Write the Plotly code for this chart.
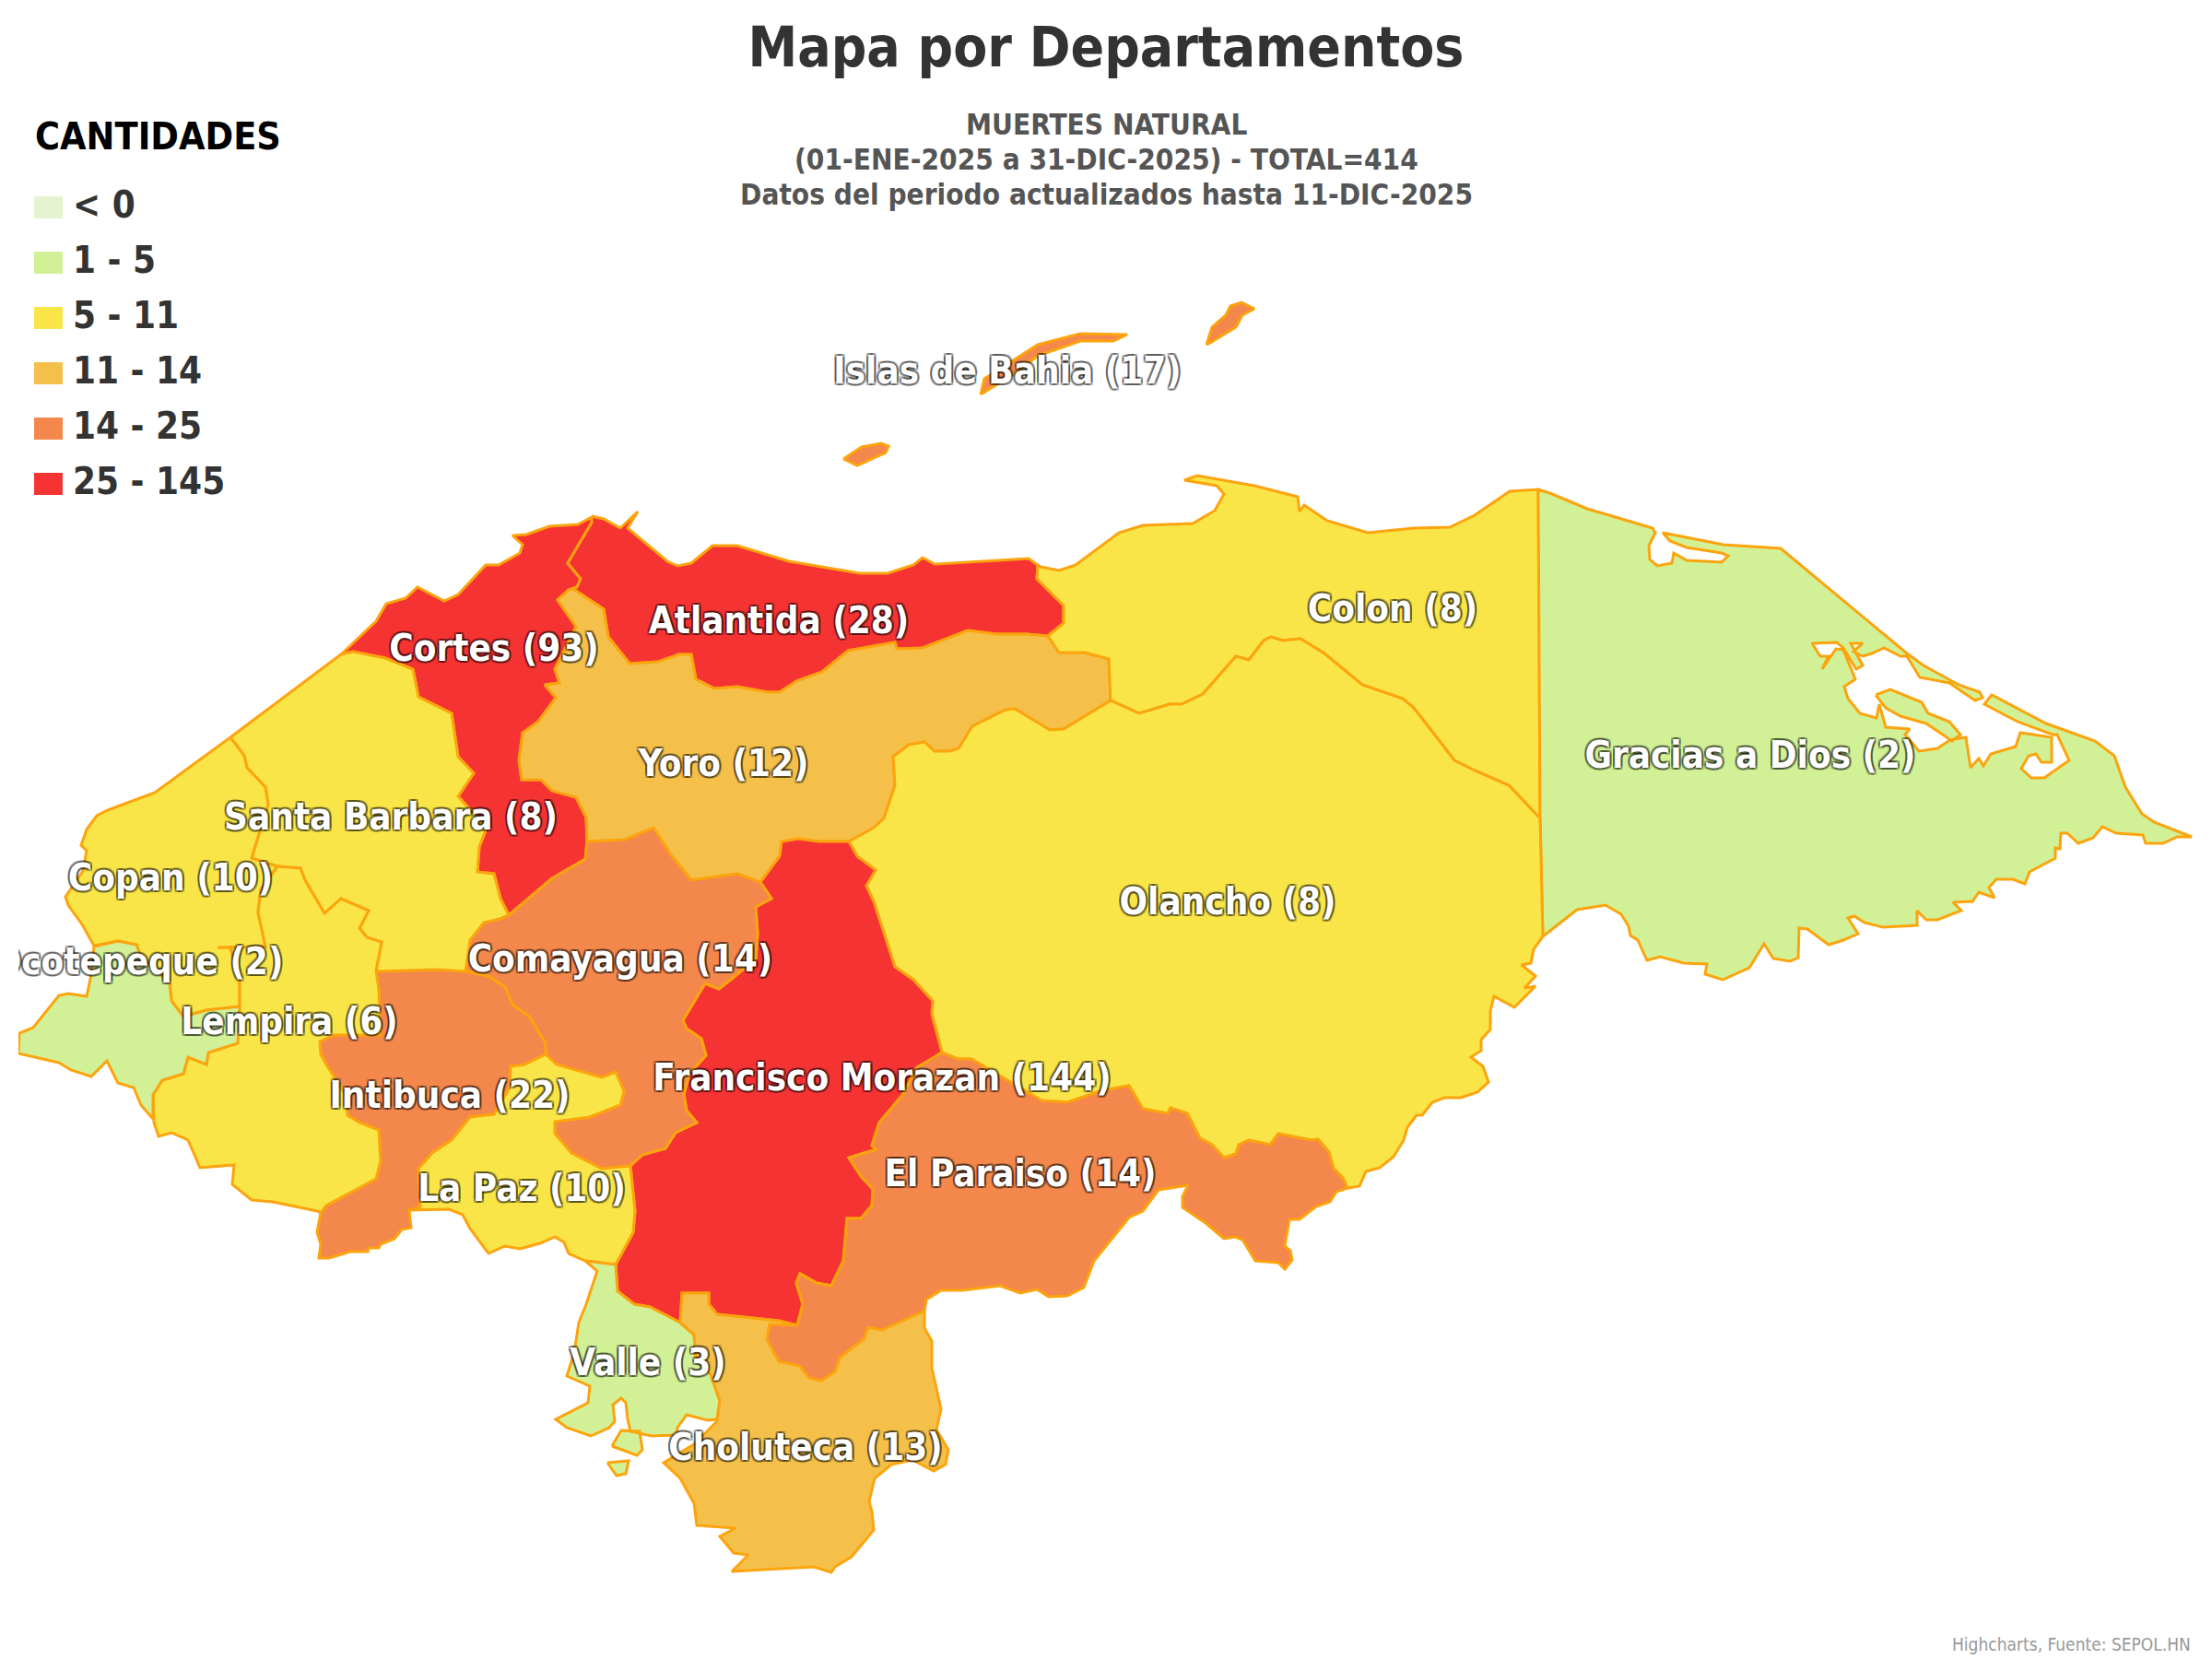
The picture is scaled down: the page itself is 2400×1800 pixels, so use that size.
import plotly.graph_objects as go

# ---------- data ----------
DEPARTMENTS = ["Cortes", "Atlantida", "Yoro", "Colon", "Gracias a Dios", "Olancho", "Francisco Morazan",
               "Comayagua", "Intibuca", "La Paz", "Valle", "Choluteca", "El Paraiso", "Santa Barbara",
               "Copan", "Lempira", "Ocotepeque", "Islas de Bahia"]
VALUES = [93, 28, 12, 8, 2, 8, 144, 14, 22, 10, 3, 13, 14, 8, 10, 6, 2, 17]
LABEL_X = [536, 845, 785, 1511, 1899, 1332, 957, 673, 488, 566, 703, 874, 1107, 424, 185, 314, 150, 1093]
LABEL_Y = [707, 677, 832, 664, 823, 982, 1173, 1044, 1192, 1293, 1482, 1574, 1277, 890, 956, 1112, 1047, 406]

CLASS_LABELS = ["< 0", "1 - 5", "5 - 11", "11 - 14", "14 - 25", "25 - 145"]
CLASS_COLORS = ["#e6f3d0", "#d2f196", "#f9e547", "#f5c04a", "#f4874b", "#f53333"]
CLASS_UPPER = [0.5, 5, 11, 13.5, 25, 145]

# shared boundaries (map units)
CORTES_COAST = [(370,710),(408,674),(419,655),(440,649),(453,637),(482,652),(497,645),(527,613),(541,613),(564,600),(567,591),(556,581),(571,580),(596,571),(627,569),(642,561)]
CORTES_ATL = [(642,561),(642,567),(616,611),(630,628),(626,637),(617,640)]
CORTES_YORO = [(617,640),(605,651),(625,680),(602,726),(607,741),(591,743),(603,757),(584,783),(567,795),(563,825),(566,846),(587,846),(599,858),(625,865),(636,887),(637,913)]
CORTES_COMA = [(637,913),(635,932),(599,953),(552,993)]
CORTES_SB = [(552,993),(543,975),(536,948),(518,946),(520,919),(528,898),(497,864),(514,839),(497,821),(490,774),(454,756),(448,726),(418,714),(383,707),(370,710)]
ATL_COAST = [(642,560),(655,563),(673,573),(692,555),(681,573),(724,609),(735,614),(750,611),(773,592),(800,592),(856,609),(933,622),(963,622),(991,613),(1001,605),(1014,612),(1116,606),(1126,613)]
ATL_COLON = [(1126,613),(1125,628),(1139,642),(1154,657),(1154,676),(1137,690)]
ATL_YORO = [(1137,690),(1114,688),(1081,688),(1050,684),(1001,703),(973,704),(971,697),(920,706),(892,729),(864,739),(846,751),(833,751),(800,745),(775,747),(755,737),(750,710),(737,710),(714,718),(683,720),(660,691),(655,661),(622,639),(617,640)]
YORO_COLON = [(1137,690),(1149,708),(1177,708),(1203,715),(1205,760)]
YORO_OLANCHO = [(1205,760),(1154,791),(1139,792),(1101,769),(1091,770),(1055,788),(1040,812),(1030,815),(1014,815),(1003,805),(986,808),(969,821),(971,852),(959,888),(948,898),(921,913)]
YORO_FM = [(921,913),(889,913),(866,910),(848,913),(846,929),(825,957)]
YORO_COMA = [(825,957),(800,948),(750,955),(729,929),(709,898),(678,911),(637,913)]
COLON_COAST = [(1126,613),(1129,615),(1149,619),(1167,613),(1214,578),(1240,570),(1294,568),(1318,554),(1328,536),(1320,527),(1285,521),(1299,516),(1361,527),(1408,539),(1410,555),(1415,548),(1440,565),(1484,578),(1534,573),(1573,572),(1600,559),(1638,533),(1669,531)]
COLON_GD = [(1669,531),(1671,888)]
COLON_OLANCHO = [(1671,888),(1637,852),(1600,836),(1578,825),(1534,768),(1522,758),(1478,743),(1437,709),(1411,693),(1392,695),(1379,691),(1371,695),(1355,716),(1341,712),(1305,753),(1282,764),(1269,764),(1236,774),(1205,760)]
OLANCHO_GD = [(1671,888),(1674,1016)]
OLANCHO_COAST = [(1674,1016),(1664,1030),(1661,1045),(1651,1047),(1666,1059),(1654,1072),(1666,1070),(1643,1093),(1621,1081),(1617,1097),(1617,1117),(1607,1128),(1607,1140),(1596,1147),(1609,1157),(1615,1174),(1603,1185),(1585,1191),(1567,1191),(1554,1196),(1543,1210),(1537,1210),(1527,1223),(1523,1237),(1512,1255),(1497,1267),(1482,1271),(1475,1287),(1462,1289)]
OLANCHO_PARAISO = [(1462,1289),(1457,1278),(1447,1268),(1442,1250),(1430,1236),(1422,1237),(1387,1230),(1378,1242),(1355,1237),(1344,1242),(1341,1252),(1328,1256),(1315,1242),(1302,1235),(1288,1208),(1270,1202),(1267,1208),(1250,1205),(1240,1203),(1225,1178),(1197,1183),(1158,1196),(1130,1194),(1115,1185),(1084,1167),(1054,1149),(1039,1149),(1022,1142)]
OLANCHO_FM = [(1022,1142),(1011,1100),(1012,1086),(991,1063),(971,1049),(948,978),(940,961),(950,944),(930,929),(921,913)]
FM_PARAISO = [(1022,1142),(995,1158),(980,1187),(954,1218),(946,1243),(951,1247),(921,1256),(934,1276),(947,1290),(946,1308),(934,1322),(919,1322),(915,1368),(902,1395),(886,1392),(868,1382),(864,1392),(871,1415),(865,1438)]
FM_CHOL = [(865,1438),(845,1433),(814,1430),(778,1426),(769,1415),(769,1403),(740,1403),(738,1435)]
FM_VALLE = [(738,1435),(705,1418),(688,1415),(670,1401),(668,1372)]
FM_LAPAZ = [(668,1372),(687,1337),(689,1314),(684,1265)]
FM_COMA = [(684,1265),(697,1253),(722,1246),(733,1229),(756,1218),(745,1205),(742,1187),(748,1165),(766,1145),(761,1127),(745,1116),(741,1107),(765,1067),(780,1073),(800,1057),(820,1040),(822,1013),(820,984),(837,975),(825,957)]
COMA_LAPAZ = [(684,1265),(653,1268),(620,1251),(602,1230),(602,1217),(640,1212),(673,1199),(677,1184),(668,1163),(653,1169),(604,1155),(592,1144)]
COMA_INTI = [(592,1144),(592,1132),(574,1103),(556,1090),(548,1071),(530,1059),(505,1054)]
COMA_SB = [(505,1054),(510,1020),(525,1001),(542,997),(552,993)]
INTI_LAPAZ = [(592,1144),(569,1155),(554,1157),(553,1180),(536,1209),(510,1212),(490,1237),(469,1251),(454,1268),(456,1310),(444,1313)]
INTI_COAST = [(444,1313),(446,1332),(436,1334),(428,1344),(413,1350),(411,1354),(400,1354),(399,1358),(380,1358),(357,1365),(346,1365),(348,1350),(344,1337),(348,1316)]
INTI_LEMPIRA = [(348,1316),(354,1308),(408,1279),(413,1260),(411,1226),(390,1218),(377,1210),(375,1188),(354,1155),(348,1144),(347,1130),(362,1123),(413,1123),(411,1073),(408,1053)]
INTI_SB = [(408,1053),(411,1054),(472,1052),(505,1054)]
LAPAZ_COAST = [(444,1313),(487,1312),(502,1318),(510,1333),(530,1360),(548,1352),(564,1355),(586,1349),(602,1342),(612,1348),(617,1360),(635,1368)]
LAPAZ_VALLE = [(635,1368),(668,1372)]
VALLE_CHOL = [(738,1435),(753,1448),(755,1475),(771,1491),(781,1520),(778,1540)]
VALLE_COAST = [(778,1540),(768,1541),(745,1535),(735,1549),(734,1557),(707,1558),(684,1553),(681,1540),(679,1522),(674,1517),(665,1524),(667,1542),(661,1549),(641,1558),(615,1549),(603,1540),(638,1522),(640,1504),(615,1493),(623,1468),(628,1435),(636,1415),(648,1379),(635,1368)]
VALLE_ISLAND_A = [(664,1569),(674,1552),(694,1553),(697,1573),(691,1579),(664,1569)]
VALLE_ISLAND_B = [(659,1587),(682,1585),(679,1599),(669,1601),(659,1587)]
PARAISO_CHOL = [(865,1438),(835,1437),(832,1453),(845,1477),(868,1482),(878,1495),(891,1498),(906,1488),(911,1473),(937,1453),(942,1440),(957,1443),(1003,1422)]
CHOL_COAST = [(1003,1422),(1003,1441),(1011,1455),(1011,1484),(1021,1529),(1016,1551),(1029,1573),(1026,1589),(1013,1596),(990,1584),(967,1589),(949,1604),(943,1629),(946,1640),(948,1660),(924,1689),(906,1700),(902,1706),(883,1700),(794,1705),(812,1687),(796,1685),(781,1667),(798,1658),(756,1655),(753,1631),(738,1604),(720,1587),(753,1567),(778,1542),(778,1540)]
PARAISO_COAST = [(1462,1289),(1450,1293),(1443,1304),(1428,1309),(1410,1323),(1399,1323),(1394,1352),(1400,1357),(1402,1367),(1394,1377),(1387,1370),(1362,1368),(1348,1345),(1340,1342),(1328,1344),(1308,1327),(1283,1310),(1283,1298),(1289,1286),(1257,1291),(1240,1314),(1225,1321),(1187,1368),(1176,1397),(1158,1406),(1138,1407),(1125,1399),(1107,1403),(1085,1395),(1044,1400),(1021,1400),(1005,1410),(1003,1422)]
SB_COAST = [(250,800),(370,710)]
SB_WEST = [(408,1053),(414,1022),(398,1017),(390,1007),(400,988),(370,975),(352,991),(331,955),(326,942),(301,940),(273,931),(283,898),(291,873),(288,854),(268,833),(265,820),(250,800)]
COPAN_RING = [(250,800),(168,860),(117,879),(105,885),(94,900),(88,917),(94,923),(90,945),(71,973),(74,982),(89,1003),(102,1026),(128,1021),(148,1025),(153,1038),(184,1067),(186,1086),(199,1103),(224,1096),(260,1092),(260,1065),(250,1028),(236,1028),(288,1027),(280,990),(283,965),(301,940),(273,931),(283,898),(291,873),(288,854),(268,833),(265,820),(250,800)]
LEMPIRA_NORTH = [(260,1092),(260,1065),(250,1028),(288,1027),(280,990),(283,965),(301,940),(326,942),(331,955),(352,991),(370,975),(400,988),(390,1007),(398,1017),(414,1022),(408,1053)]
LEMPIRA_COAST = [(348,1316),(344,1314),(296,1304),(273,1302),(252,1285),(254,1264),(217,1267),(204,1237),(186,1229),(172,1233),(167,1218),(166,1188),(176,1172),(199,1165),(204,1147),(224,1155),(226,1142),(255,1132),(260,1092)]
OCOTEPEQUE_RING = [(102,1027),(128,1021),(148,1025),(153,1038),(184,1067),(186,1086),(199,1103),(224,1096),(260,1092),(258,1132),(226,1142),(224,1155),(204,1147),(199,1165),(176,1172),(166,1188),(166,1214),(153,1199),(145,1180),(128,1175),(116,1151),(99,1168),(77,1161),(64,1153),(20,1143),(21,1121),(36,1115),(64,1080),(74,1078),(94,1081),(99,1057),(102,1027)]
GD_RING = [(1669,531),(1684,536),(1722,552),(1793,573),(1796,578),(1789,592),(1790,607),(1798,614),(1814,611),(1816,600),(1830,608),(1868,610),(1875,603),(1868,600),(1830,594),(1812,587),(1804,578),(1870,591),(1932,595),
           (2069,709),(2087,722),(2125,743),(2148,751),(2151,757),(2143,760),(2115,741),(2083,735),(2069,712),(2062,712),(2044,703),(2031,709),(2021,712),(2011,707),(2021,698),(2008,698),(2021,722),(2014,726),(2000,703),(1993,697),(1966,698),(1975,712),(1984,712),(1977,726),(1992,704),(2000,705),(2013,737),(2001,745),(2005,758),(2018,774),(2036,779),(2039,764),
           (2046,789),(2072,791),(2067,797),(2082,815),(2102,812),(2114,804),(2120,802),(2133,800),(2138,833),(2147,823),(2152,831),(2160,818),(2187,810),(2192,795),(2226,800),(2226,827),(2215,827),(2209,818),(2201,820),(2193,834),(2204,844),(2218,844),(2245,825),(2232,797),(2227,797),(2189,783),(2153,764),(2161,754),(2220,785),(2273,804),(2294,820),(2306,854),(2324,883),(2337,892),(2378,908),(2362,908),(2347,915),(2328,915),(2325,906),(2296,904),(2281,897),(2271,909),(2255,915),(2243,904),(2236,904),(2235,921),(2230,920),(2230,931),(2202,946),(2197,959),(2184,954),(2166,954),(2158,963),(2164,974),(2147,968),(2140,978),(2119,979),(2128,988),(2102,998),(2090,998),(2080,988),(2080,1004),(2043,1006),(2023,1001),(2012,994),(2005,996),(2016,1013),(2000,1020),(1984,1025),(1961,1008),(1952,1007),(1951,1039),(1942,1043),(1924,1040),(1914,1024),(1898,1050),(1869,1063),(1850,1057),(1852,1046),(1827,1045),(1801,1038),(1787,1042),(1777,1020),(1769,1015),(1767,1005),(1759,992),(1742,982),(1711,987),(1674,1016),(1671,888),(1669,531)]
GD_ISLAND = [(2035,754),(2051,748),(2085,762),(2092,774),(2115,783),(2127,797),(2118,804),(2090,785),(2062,777),(2046,768),(2035,754)]
ROATAN = [(1064,428),(1068,411),(1126,374),(1172,362),(1223,363),(1208,370),(1172,370),(1126,386),(1098,407),(1064,428)]
GUANAJA = [(1309,374),(1315,355),(1330,342),(1335,332),(1347,328),(1361,335),(1348,342),(1341,355),(1313,372),(1309,374)]
UTILA = [(915,498),(935,485),(956,481),(964,484),(961,491),(930,505),(915,498)]

TITLE = "Mapa por Departamentos"
SUBTITLE = ["MUERTES NATURAL", "(01-ENE-2025 a 31-DIC-2025) - TOTAL=414", "Datos del periodo actualizados hasta 11-DIC-2025"]
SUBTITLE_Y = [135, 173, 211]
LEGEND_TITLE = "CANTIDADES"
CREDITS = "Highcharts, Fuente: SEPOL.HN"

# ---------- geometry ----------
rev = lambda s: s[::-1]
SHAPES = {
    "Cortes": [CORTES_COAST + CORTES_ATL + CORTES_YORO + CORTES_COMA + CORTES_SB],
    "Atlantida": [ATL_COAST + ATL_COLON + ATL_YORO + rev(CORTES_ATL)],
    "Yoro": [YORO_COLON + YORO_OLANCHO + YORO_FM + YORO_COMA + rev(CORTES_YORO) + rev(ATL_YORO)],
    "Colon": [COLON_COAST + COLON_GD + COLON_OLANCHO + rev(YORO_COLON) + rev(ATL_COLON)],
    "Gracias a Dios": [GD_RING, GD_ISLAND],
    "Olancho": [rev(COLON_OLANCHO) + OLANCHO_GD + OLANCHO_COAST + OLANCHO_PARAISO + OLANCHO_FM + rev(YORO_OLANCHO)],
    "Francisco Morazan": [rev(OLANCHO_FM) + FM_PARAISO + FM_CHOL + FM_VALLE + FM_LAPAZ + FM_COMA + rev(YORO_FM)],
    "Comayagua": [rev(YORO_COMA) + rev(FM_COMA) + COMA_LAPAZ + COMA_INTI + COMA_SB + rev(CORTES_COMA)],
    "Intibuca": [rev(COMA_INTI) + INTI_LAPAZ + INTI_COAST + INTI_LEMPIRA + INTI_SB],
    "La Paz": [rev(INTI_LAPAZ) + rev(COMA_LAPAZ) + rev(FM_LAPAZ) + rev(LAPAZ_VALLE) + rev(LAPAZ_COAST)],
    "Valle": [LAPAZ_VALLE + rev(FM_VALLE) + VALLE_CHOL + VALLE_COAST, VALLE_ISLAND_A, VALLE_ISLAND_B],
    "Choluteca": [rev(FM_CHOL) + PARAISO_CHOL + CHOL_COAST + rev(VALLE_CHOL)],
    "El Paraiso": [rev(OLANCHO_PARAISO) + PARAISO_COAST + rev(PARAISO_CHOL) + rev(FM_PARAISO)],
    "Santa Barbara": [SB_COAST + rev(CORTES_SB) + rev(COMA_SB) + rev(INTI_SB) + SB_WEST],
    "Copan": [COPAN_RING],
    "Lempira": [LEMPIRA_NORTH + rev(INTI_LEMPIRA) + LEMPIRA_COAST],
    "Ocotepeque": [OCOTEPEQUE_RING],
    "Islas de Bahia": [ROATAN, GUANAJA, UTILA],
}

FONT = "DejaVu Sans Condensed, DejaVu Sans, sans-serif"
BORDER = "#fca40e"
OUTLINE = ", ".join(f"{dx}px {dy}px 0 rgba(0,0,0,0.3)" for dx, dy in
                    [(-2, 0), (2, 0), (0, -2), (0, 2), (-2, -2), (2, -2), (-2, 2), (2, 2)])


def class_color(v):
    for up, col in zip(CLASS_UPPER, CLASS_COLORS):
        if v <= up:
            return col
    return CLASS_COLORS[-1]


fig = go.Figure()
for name, value in zip(DEPARTMENTS, VALUES):
    xs, ys = [], []
    for ring in SHAPES[name]:
        xs += [p[0] for p in ring] + [None]
        ys += [p[1] for p in ring] + [None]
    fig.add_trace(go.Scatter(x=xs, y=ys, mode="lines", fill="toself", fillcolor=class_color(value),
                             line=dict(color=BORDER, width=3), name=name, hoverinfo="name", showlegend=False))

fig.add_trace(go.Scatter(
    x=LABEL_X, y=LABEL_Y, mode="text", cliponaxis=True, showlegend=False, hoverinfo="skip",
    text=[f"{n} ({v})" for n, v in zip(DEPARTMENTS, VALUES)], textposition="middle center",
    textfont=dict(family=FONT, size=40, color="white", weight="bold", shadow=OUTLINE)))

# legend
LEG_X0, LEG_X1, LEG_TOP, LEG_H, LEG_STEP = 37, 68, 213, 24, 60
shapes = []
annots = []
for i, (lab, col) in enumerate(zip(CLASS_LABELS, CLASS_COLORS)):
    y0 = LEG_TOP + i * LEG_STEP
    shapes.append(dict(type="rect", xref="x", yref="y", x0=LEG_X0, x1=LEG_X1, y0=y0, y1=y0 + LEG_H,
                       fillcolor=col, line=dict(width=0), layer="above"))
    annots.append(dict(x=77, y=y0 + LEG_H / 2 - 3, xref="x", yref="y", text=f"<b>{lab}</b>", showarrow=False,
                       xanchor="left", yanchor="middle", font=dict(family=FONT, size=40, color="#333333")))
annots.append(dict(x=36, y=148, xref="x", yref="y", text=f"<b>{LEGEND_TITLE}</b>", showarrow=False,
                   xanchor="left", yanchor="middle", font=dict(family=FONT, size=41, color="#000000")))
for line, yy in zip(SUBTITLE, SUBTITLE_Y):
    annots.append(dict(x=1200, y=yy, xref="x", yref="y", text=f"<b>{line}</b>", showarrow=False,
                       xanchor="center", yanchor="middle", align="center",
                       font=dict(family=FONT, size=31.3, color="#555555")))
annots.append(dict(x=2379, y=1784, xref="x", yref="y", text=CREDITS, showarrow=False, xanchor="right",
                   yanchor="middle", font=dict(family=FONT, size=19, color="#999999")))

fig.update_layout(
    width=2400, height=1800, autosize=False, paper_bgcolor="white", plot_bgcolor="white",
    margin=dict(l=20, r=0, t=0, b=0), showlegend=False, shapes=shapes, annotations=annots,
    title=dict(text=f"<b>{TITLE}</b>", x=0.5, xanchor="center", xref="container", y=1 - 51 / 1800,
               yanchor="middle", yref="container", font=dict(family=FONT, size=60, color="#333333")),
    xaxis=dict(range=[20, 2400], visible=False, fixedrange=True),
    yaxis=dict(range=[1800, 0], visible=False, fixedrange=True),
)
fig.write_html("out.html", config={"displayModeBar": False},
               post_script="document.body.style.margin='0';document.body.style.overflow='hidden';")
